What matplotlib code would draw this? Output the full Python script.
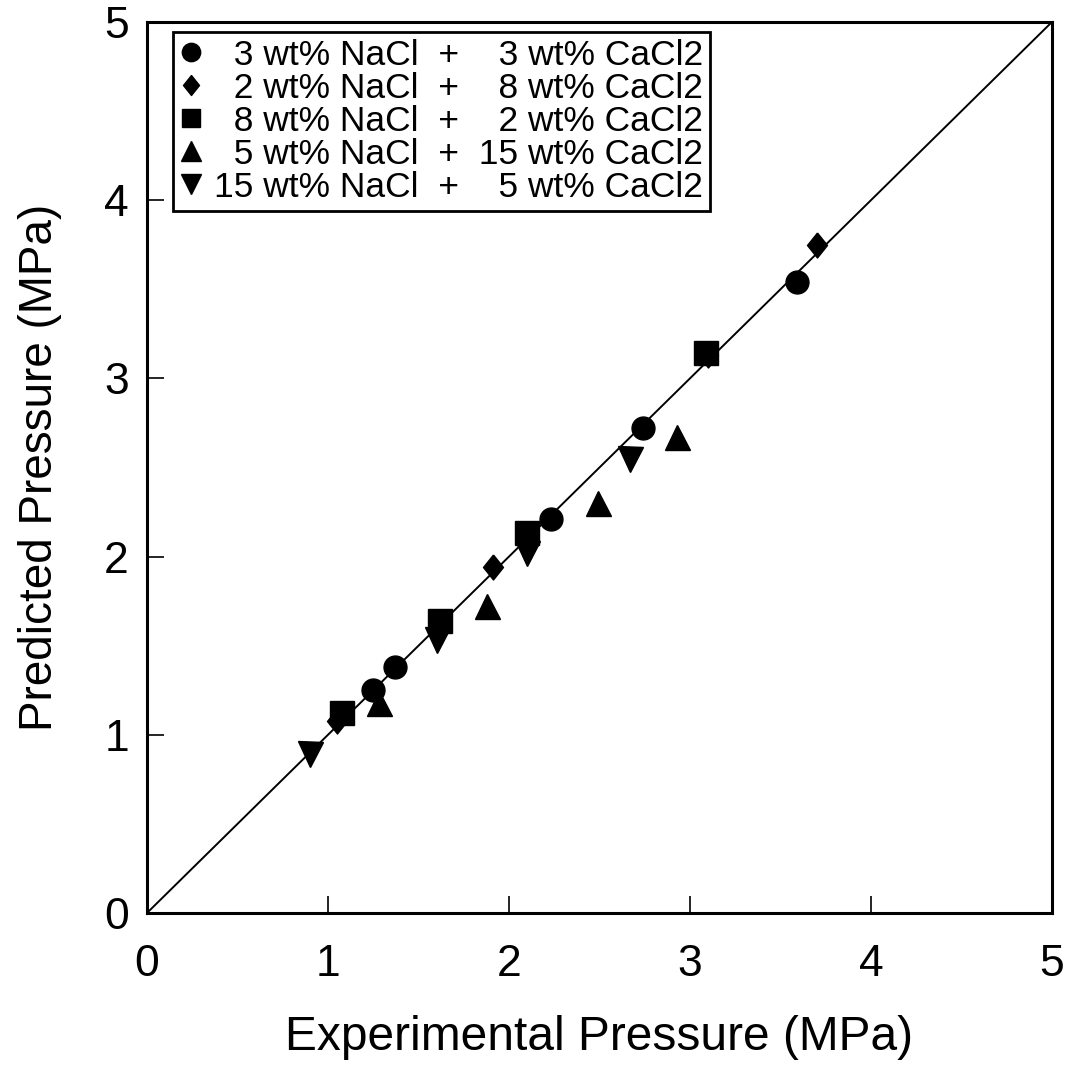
import matplotlib
matplotlib.use('Agg')
import matplotlib.pyplot as plt

plt.rcParams['font.family'] = ['Liberation Sans', 'DejaVu Sans']

# Experimental vs predicted pressure (MPa) for each brine
labels = ['  3 wt% NaCl  +    3 wt% CaCl2',
          '  2 wt% NaCl  +    8 wt% CaCl2',
          '  8 wt% NaCl  +    2 wt% CaCl2',
          '  5 wt% NaCl  +  15 wt% CaCl2',
          '15 wt% NaCl  +    5 wt% CaCl2']

circ_x = [1.25, 1.37, 2.23, 2.74, 3.59]
circ_y = [1.25, 1.38, 2.21, 2.72, 3.54]

diam_x = [1.05, 1.91, 3.10, 3.70]
diam_y = [1.08, 1.94, 3.13, 3.75]

sq_x = [1.08, 1.62, 2.10, 3.09]
sq_y = [1.12, 1.64, 2.13, 3.14]

up_x = [1.28, 1.88, 2.49, 2.93]
up_y = [1.18, 1.72, 2.30, 2.67]

dn_x = [0.90, 1.60, 2.10, 2.67]
dn_y = [0.89, 1.53, 2.02, 2.55]

diamond = [(0, 1), (0.8, 0), (0, -1), (-0.8, 0), (0, 1)]

fig = plt.figure(figsize=(10.68, 10.71), dpi=100)
ax = fig.add_axes([0.1376, 0.1475, 0.8474, 0.832])

ax.plot([0, 5], [0, 5], color='black', lw=1.4, zorder=1)

ax.plot(circ_x, circ_y, 'o', ms=16.5, color='black', label=labels[0], zorder=3)
ax.plot(diam_x, diam_y, marker=diamond, ls='none', ms=18, color='black', label=labels[1], zorder=2)
ax.plot(sq_x, sq_y, 's', ms=17, color='black', label=labels[2], zorder=3)
ax.plot(up_x, up_y, '^', ms=18, color='black', label=labels[3], zorder=3)
ax.plot(dn_x, dn_y, 'v', ms=18, color='black', label=labels[4], zorder=2)

ax.set_xlim(0, 5)
ax.set_ylim(0, 5)
ax.set_xticks([0, 1, 2, 3, 4, 5])
ax.set_yticks([0, 1, 2, 3, 4, 5])
ax.tick_params(direction='in', length=12, width=1.2, labelsize=32)
ax.tick_params(axis='x', pad=22)
ax.tick_params(axis='y', pad=13)
for s in ax.spines.values():
    s.set_linewidth(2.2)

ax.set_xlabel('Experimental Pressure (MPa)', fontsize=34.5, labelpad=22)
ax.set_ylabel('Predicted Pressure (MPa)', fontsize=33, labelpad=30)

leg = ax.legend(loc='upper left', bbox_to_anchor=(0.029, 0.989), fontsize=25.5,
                markerscale=0.8, handlelength=0.6, handletextpad=0.35,
                labelspacing=0.0, borderpad=0.2, borderaxespad=0,
                fancybox=False, edgecolor='black', framealpha=1)
leg.get_frame().set_linewidth(2)

fig.savefig('out.png', dpi=100)
